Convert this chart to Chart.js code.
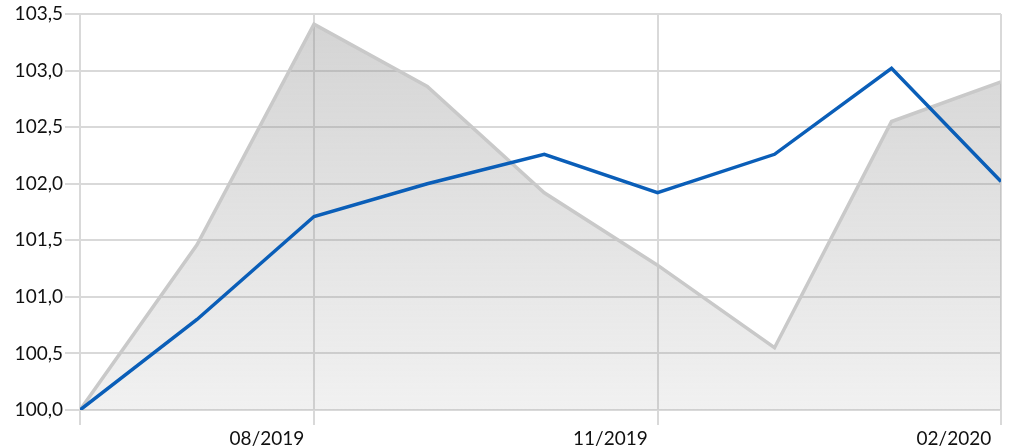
<!DOCTYPE html>
<html>
<head>
<meta charset="utf-8">
<script src="https://cdn.jsdelivr.net/npm/chart.js@4"></script>
<style>
  html, body { margin: 0; padding: 0; background: #fff; }
  #wrap { width: 1011px; height: 448px; }
</style>
</head>
<body>
<div id="wrap"><canvas id="myChart" width="1011" height="448"></canvas></div>
<script>
// month-end dates of each observation
const dates = ['2019-06-30', '2019-07-31', '2019-08-31', '2019-09-30', '2019-10-31', '2019-11-30', '2019-12-31', '2020-01-31', '2020-02-29']
const tickDates = ['2019-08-31', '2019-11-30', '2020-02-29']
const tickLabels = ['08/2019', '11/2019', '02/2020']
const blueValues = [100.0, 100.8, 101.71, 102.0, 102.26, 101.92, 102.26, 103.02, 102.02]
const greyValues = [100.0, 101.46, 103.41, 102.86, 101.92, 101.28, 100.55, 102.55, 102.9]

const DAY = 86400000
const t0 = Date.parse(dates[0])
const dayOf = (d) => Math.round((Date.parse(d) - t0) / DAY)
const xs = dates.map(dayOf)
const tickXs = tickDates.map(dayOf)

const ctx = document.getElementById('myChart').getContext('2d')

function greyFill(context) {
  const area = context.chart.chartArea
  if (!area) return 'rgba(150,150,150,0.4)'
  const g = context.chart.ctx.createLinearGradient(0, area.top, 0, area.bottom)
  g.addColorStop(0, 'rgba(140,140,140,0.38)')
  g.addColorStop(1, 'rgba(140,140,140,0.12)')
  return g
}

const data = {
  datasets: [
    {
      label: 'Blau',
      data: xs.map((x, i) => ({ x: x, y: blueValues[i] })),
      borderColor: '#0a5eb8',
      borderWidth: 3.5,
      pointRadius: 0,
      tension: 0,
      fill: false
    },
    {
      label: 'Grau',
      data: xs.map((x, i) => ({ x: x, y: greyValues[i] })),
      borderColor: '#c9c9c9',
      borderWidth: 3.5,
      backgroundColor: greyFill,
      pointRadius: 0,
      tension: 0,
      fill: 'origin'
    }
  ]
}

const config = {
  type: 'line',
  data: data,
  options: {
    responsive: false,
    animation: false,
    layout: { padding: { top: 14, right: 10, left: 0, bottom: 0 } },
    plugins: {
      legend: { display: false },
      tooltip: { enabled: false }
    },
    scales: {
      x: {
        type: 'linear',
        min: xs[0],
        max: xs[xs.length - 1],
        border: { display: false },
        afterBuildTicks: (s) => {
          s.ticks = [xs[0]].concat(tickXs).map((v) => ({ value: v }))
        },
        grid: { color: '#d9d9d9', lineWidth: 2, tickLength: 15 },
        ticks: {
          autoSkip: false,
          maxRotation: 0,
          align: 'end',
          padding: 2,
          color: '#111',
          font: { family: 'Lato', size: 19 },
          callback: function (v) {
            const i = tickXs.indexOf(v)
            return i >= 0 ? tickLabels[i] + '  ' : ''
          }
        },
        afterFit: (s) => { s.height = 38 }
      },
      y: {
        min: 100,
        max: 103.5,
        border: { display: false },
        grid: { color: '#d9d9d9', lineWidth: 2, tickLength: 15 },
        ticks: {
          stepSize: 0.5,
          padding: 2,
          color: '#111',
          font: { family: 'Lato', size: 19 },
          callback: (v) => v.toFixed(1).replace('.', ',')
        },
        afterFit: (s) => { s.width = 80 }
      }
    }
  }
}

const myChart = new Chart(ctx, config)
</script>
</body>
</html>
